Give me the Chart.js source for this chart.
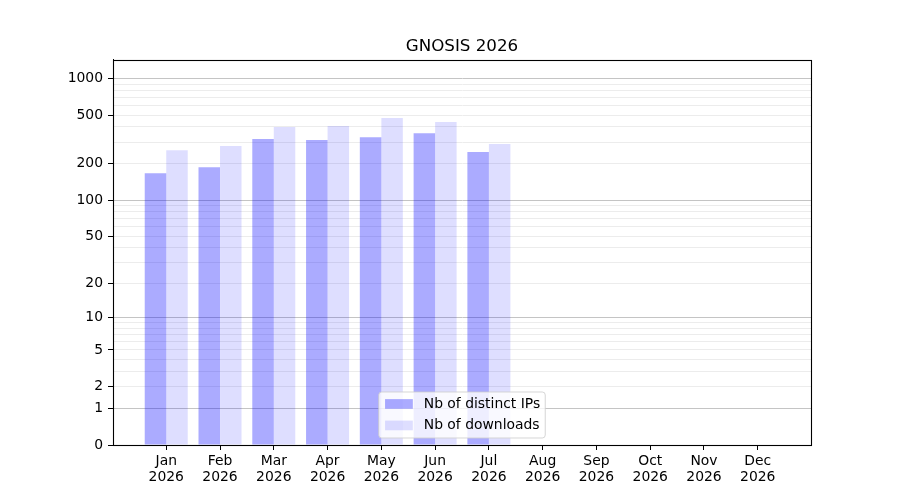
<!DOCTYPE html>
<html>
<head>
<meta charset="utf-8">
<title>GNOSIS 2026</title>
<script src="https://cdn.jsdelivr.net/npm/chart.js@4/dist/chart.umd.min.js"></script>
<style>
  html, body { margin: 0; padding: 0; background: #fff; }
</style>
</head>
<body>
<canvas id="stats" width="900" height="500"></canvas>
<script>
/* GNOSIS monthly stats */

const months = ['Jan', 'Feb', 'Mar', 'Apr', 'May', 'Jun', 'Jul', 'Aug', 'Sep', 'Oct', 'Nov', 'Dec']
const year = '2026'
const distinctIps = [167, 187, 318, 312, 330, 356, 249, 0, 0, 0, 0, 0]
const downloads = [258, 279, 399, 407, 473, 439, 290, 0, 0, 0, 0, 0]

const labelledTicks = [0, 1, 2, 5, 10, 20, 50, 100, 200, 500, 1000]
const majorTicks = [0, 1, 10, 100, 1000]
const minorTicks = [3, 4, 6, 7, 8, 9, 30, 40, 60, 70, 80, 90, 300, 400, 600, 700, 800, 900]

const Text = {
  TITLE: 'GNOSIS ' + year,
  IPS: 'Nb of distinct IPs',
  DOWNLOADS: 'Nb of downloads'
}

const FONT = "'DejaVu Sans', sans-serif"
const FS = 13.9

// y = log10(1 + v), the same curve as the original plot's axis
const tr = v => Math.log10(1 + v)

class Log1pScale extends Chart.Scale {
  determineDataLimits () {
    const { min, max } = this.getMinMax(true)
    this.min = this.options.min ?? min
    this.max = this.options.max ?? max
  }

  buildTicks () {
    return labelledTicks.concat(minorTicks)
      .sort((a, b) => a - b)
      .filter(v => v >= this.min && v <= this.max)
      .map(v => ({ value: v }))
  }

  configure () {
    super.configure()
    this._startValue = tr(this.min)
    this._valueRange = tr(this.max) - tr(this.min)
  }

  getLabelForValue (value) {
    return String(value)
  }

  getPixelForValue (value) {
    return this.getPixelForDecimal((tr(value) - this._startValue) / this._valueRange)
  }

  getValueForPixel (pixel) {
    return Math.pow(10, this._startValue + this.getDecimalForPixel(pixel) * this._valueRange) - 1
  }
}
Log1pScale.id = 'log1p'
Log1pScale.defaults = {}
Chart.register(Log1pScale)

const frame = {
  id: 'frame',
  afterDraw (chart) {
    const { ctx, chartArea: a } = chart
    ctx.save()
    ctx.strokeStyle = '#000'
    ctx.lineWidth = 1.1
    ctx.strokeRect(Math.round(a.left) + 0.5, Math.round(a.top) + 0.5,
      Math.round(a.right - a.left), Math.round(a.bottom - a.top))
    ctx.restore()
  }
}

const boxLegend = {
  id: 'boxLegend',
  afterDraw (chart) {
    const { ctx, chartArea: a } = chart
    const items = chart.data.datasets
    ctx.save()
    ctx.font = FS + 'px ' + FONT
    const textW = Math.max(...items.map(d => ctx.measureText(d.label).width))
    const w = 5.6 + 27.8 + 11.1 + textW + 5.6
    const h = 46
    const x0 = (a.left + a.right) / 2 - w / 2
    const y0 = a.bottom - 7 - h
    ctx.beginPath()
    ctx.roundRect(x0, y0, w, h, 3)
    ctx.fillStyle = 'rgba(255,255,255,0.8)'
    ctx.fill()
    ctx.strokeStyle = 'rgba(204,204,204,0.8)'
    ctx.lineWidth = 1
    ctx.stroke()
    items.forEach((d, i) => {
      const cy = y0 + 12 + i * 21.5
      ctx.fillStyle = d.backgroundColor
      ctx.fillRect(x0 + 6.3, cy - 4.9, 27.8, 9.7)
      ctx.fillStyle = '#000'
      ctx.textBaseline = 'middle'
      ctx.textAlign = 'left'
      ctx.fillText(d.label, x0 + 45, cy)
    })
    ctx.restore()
  }
}

Chart.defaults.font.family = FONT
Chart.defaults.color = '#000'

new Chart(document.getElementById('stats'), {
  type: 'bar',
  plugins: [frame, boxLegend],
  data: {
    datasets: [
      {
        label: Text.IPS,
        data: distinctIps.map((v, i) => ({ x: i, y: v })),
        backgroundColor: 'rgba(0,0,255,0.33)',
        borderWidth: 0
      },
      {
        label: Text.DOWNLOADS,
        data: downloads.map((v, i) => ({ x: i, y: v })),
        backgroundColor: 'rgba(0,0,255,0.13)',
        borderWidth: 0
      }
    ]
  },
  options: {
    responsive: false,
    animation: false,
    layout: { padding: { top: 36, right: 89, bottom: 0, left: 0 } },
    datasets: {
      bar: { categoryPercentage: 0.8, barPercentage: 1.0 }
    },
    plugins: {
      legend: { display: false },
      tooltip: { enabled: false },
      title: {
        display: true,
        text: Text.TITLE,
        fullSize: false,
        color: '#000',
        font: { size: 16.7, weight: 'normal', family: FONT },
        padding: { top: 0.5, bottom: 3 }
      }
    },
    scales: {
      x: {
        type: 'linear',
        min: -0.99,
        max: 11.99,
        offset: false,
        afterBuildTicks: scale => { scale.ticks = months.map((m, i) => ({ value: i })) },
        afterFit: scale => { scale.height = 55 },
        grid: { offset: false, drawOnChartArea: false, drawTicks: true, tickLength: 5, tickColor: '#000', tickWidth: 1 },
        border: { display: true, color: '#000', width: 1 },
        ticks: {
          autoSkip: false,
          maxRotation: 0,
          padding: 3,
          font: { size: FS, lineHeight: 1.17 },
          callback: value => [months[value], year]
        }
      },
      y: {
        type: 'log1p',
        position: 'left',
        min: 0,
        max: 1428,
        afterFit: scale => { scale.width = 113 },
        grid: {
          drawTicks: true,
          tickLength: 5,
          color: c => majorTicks.includes(c.tick.value) ? '#c4c4c4' : '#ececec',
          tickColor: c => labelledTicks.includes(c.tick.value) ? '#000' : 'rgba(0,0,0,0)'
        },
        border: { display: true, color: '#000', width: 1 },
        ticks: {
          autoSkip: false,
          padding: 5,
          font: { size: FS },
          callback: value => labelledTicks.includes(value) ? String(value) : ''
        }
      }
    }
  }
})
</script>
</body>
</html>
